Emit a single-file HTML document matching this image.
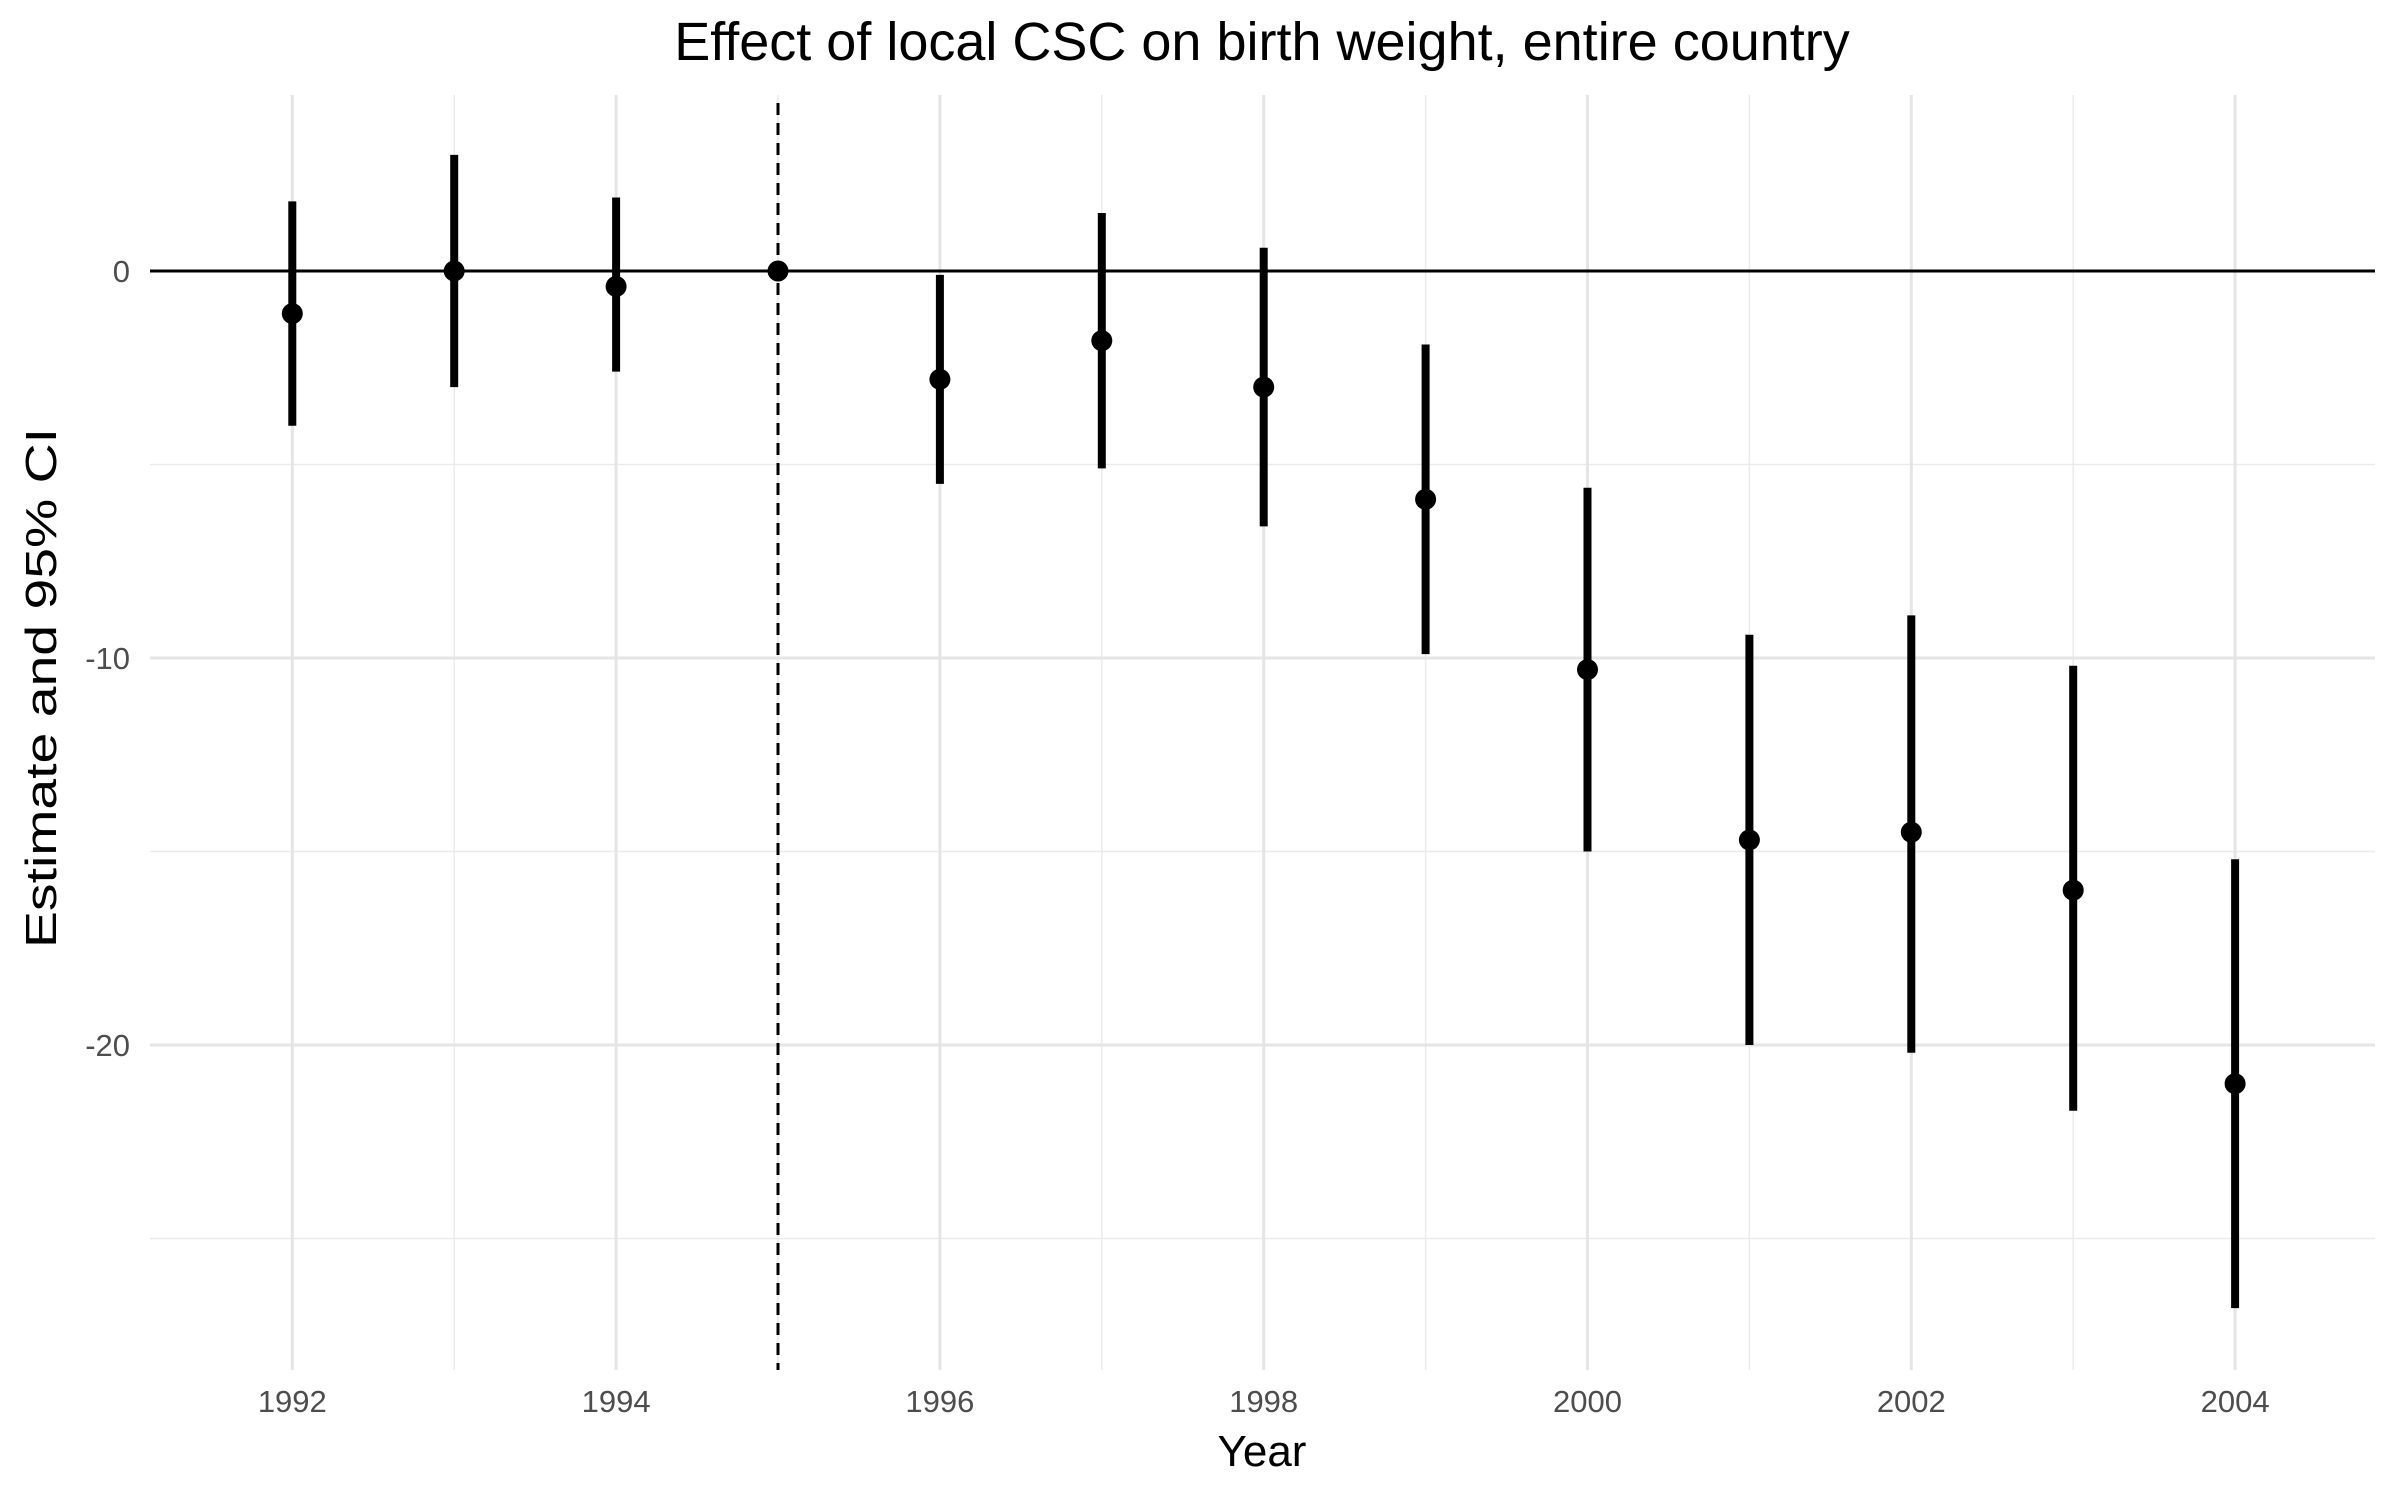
<!DOCTYPE html>
<html><head><meta charset="utf-8"><style>
html,body{margin:0;padding:0;background:#fff;}
svg{display:block;font-family:"Liberation Sans",sans-serif;}
</style></head><body>
<svg id="chart" width="2400" height="1500" viewBox="0 0 2400 1500" xmlns="http://www.w3.org/2000/svg">
<g id="grid"></g>
<g id="marks"></g>
<g id="axes"></g>
<text x="1262" y="60" font-size="54" text-anchor="middle" fill="#000">Effect of local CSC on birth weight, entire country</text>
<text x="1262" y="1466" font-size="44" text-anchor="middle" fill="#000">Year</text>
<text transform="translate(56,688) rotate(-90)" font-size="44" text-anchor="middle" fill="#000" textLength="520" lengthAdjust="spacingAndGlyphs">Estimate and 95% CI</text>
</svg>
<script>
const years=[1992,1993,1994,1995,1996,1997,1998,1999,2000,2001,2002,2003,2004];
const estimates=[-1.1,0,-0.4,0,-2.8,-1.8,-3,-5.9,-10.3,-14.7,-14.5,-16,-21];
const lower=[-4,-3,-2.6,0,-5.5,-5.1,-6.6,-9.9,-15,-20,-20.2,-21.7,-26.8];
const upper=[1.8,3,1.9,0,-0.1,1.5,0.6,-1.9,-5.6,-9.4,-8.9,-10.2,-15.2];
const xTicks=[1992,1994,1996,1998,2000,2002,2004];
const yTicks=[0,-10,-20];
const yMinor=[-5,-15,-25];
const xMinor=[1993,1995,1997,1999,2001,2003];
const treatYear=1995;

const NS="http://www.w3.org/2000/svg";
const PL=150,PR=2375,PT=95,PB=1370;
const x=v=>292.3+(v-1992)*161.9;
const y=v=>271-v*38.7;
function mk(p,tag,a){const e=document.createElementNS(NS,tag);for(const k in a)e.setAttribute(k,a[k]);p.appendChild(e);return e;}
const grid=document.getElementById('grid'),marks=document.getElementById('marks'),axes=document.getElementById('axes');
yMinor.forEach(v=>{const l=mk(grid,'line',{x1:PL,x2:PR,y1:y(v),y2:y(v),stroke:'#ebebeb','stroke-width':1.5});

});
xMinor.forEach(v=>{const l=mk(grid,'line',{x1:x(v),x2:x(v),y1:PT,y2:PB,stroke:'#ebebeb','stroke-width':1.5});

});
yTicks.forEach(v=>{const l=mk(grid,'line',{x1:PL,x2:PR,y1:y(v),y2:y(v),stroke:'#e5e5e5','stroke-width':3});


const t=mk(axes,'text',{x:PL-20,y:y(v)+11,'font-size':31,'text-anchor':'end',fill:'#4d4d4d'});t.textContent=v;

});
xTicks.forEach(v=>{const l=mk(grid,'line',{x1:x(v),x2:x(v),y1:PT,y2:PB,stroke:'#e5e5e5','stroke-width':3});


const t=mk(axes,'text',{x:x(v),y:PB+42,'font-size':31,'text-anchor':'middle',fill:'#4d4d4d'});t.textContent=v;

});
const z=mk(marks,'line',{x1:PL,x2:PR,y1:y(0),y2:y(0),stroke:'#000','stroke-width':3});


const d=mk(marks,'line',{x1:x(treatYear),x2:x(treatYear),y1:PT+8,y2:PB,stroke:'#000','stroke-width':3,'stroke-dasharray':'12,8'});


years.forEach((yr,i)=>{
 const e=mk(marks,'line',{x1:x(yr),x2:x(yr),y1:y(upper[i]),y2:y(lower[i]),stroke:'#000','stroke-width':8});
 
 
 const c=mk(marks,'circle',{cx:x(yr),cy:y(estimates[i]),r:10.5,fill:'#000'});
 
 
});
</script>
</body></html>
